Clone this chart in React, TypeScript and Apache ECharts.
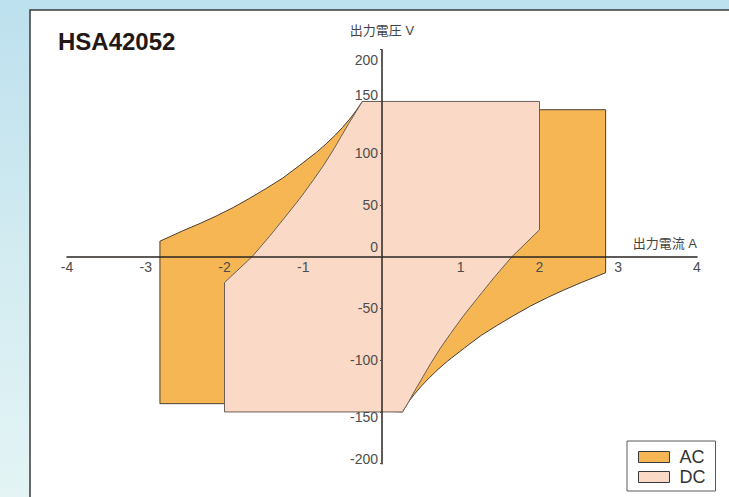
import React, { useEffect, useRef } from "react";
import * as echarts from "echarts";

// ---- data ----
const titleText = "HSA42052";
const xAxisName = "出力電流 A";
const yAxisName = "出力電圧 V";
const xMin = -4;
const xMax = 4;
const yMin = -200;
const yMax = 200;
const legendNames = ["AC", "DC"];

// AC operating region (current A, voltage V)
const acPoints: [number, number][] = [
  [-2.82, 15], [-2.53, 25], [-2.3, 32.5], [-2.1, 39.5], [-1.89, 47.5], [-1.68, 56.5],
  [-1.47, 66], [-1.26, 76], [-1.05, 88], [-0.83, 101], [-0.71, 109], [-0.6, 117],
  [-0.5, 125], [-0.41, 133], [-0.33, 141], [-0.25, 150],
  [2.0, 142], [2.84, 142], [2.84, -15.5],
  [2.53, -25], [2.3, -32.5], [2.1, -39.5], [1.89, -47.5], [1.68, -56.5],
  [1.47, -66], [1.26, -76], [1.05, -88], [0.83, -101], [0.71, -109], [0.6, -117],
  [0.5, -125], [0.41, -133], [0.33, -141], [0.26, -150],
  [-2.0, -142], [-2.82, -142],
];

// DC operating region (current A, voltage V)
const dcPoints: [number, number][] = [
  [-0.25, 150], [2.0, 150], [2.0, 26], [1.65, 0], [1.43, -19.5], [1.22, -39.3],
  [1.04, -56.5], [0.87, -74.3], [0.74, -88.5], [0.62, -103], [0.52, -116],
  [0.42, -129], [0.34, -140], [0.26, -150],
  [-2.0, -150], [-2.0, -25], [-1.65, 0], [-1.43, 19.5], [-1.22, 39.3],
  [-1.04, 56.5], [-0.87, 74.3], [-0.74, 88.5], [-0.62, 103], [-0.52, 116],
  [-0.42, 129], [-0.33, 140],
];

// ---- styles ----
const AC_FILL = "#f6b654";
const AC_STROKE = "#4a3d33";
const DC_FILL = "#fadac7";
const DC_STROKE = "#6b5f58";
const AXIS_COLOR = "#2a2522";
const LABEL_COLOR = "#4d4d4d";
const FONT = "'Liberation Sans', 'Noto Sans CJK JP', sans-serif";

const GRID_LEFT = 67;
const GRID_RIGHT = 32;
const GRID_TOP = 49.7;
const GRID_BOTTOM = 33.3;
const CHART_W = 729;
const CHART_H = 497;
const gridW = CHART_W - GRID_LEFT - GRID_RIGHT;
const gridH = CHART_H - GRID_TOP - GRID_BOTTOM;

const yLabelRich: Record<string, any> = {
  n: { fontSize: 14, color: LABEL_COLOR, fontFamily: FONT },
  d10: { fontSize: 14, color: LABEL_COLOR, fontFamily: FONT, padding: [20, 0, 0, 0] },
  d5: { fontSize: 14, color: LABEL_COLOR, fontFamily: FONT, padding: [10, 0, 0, 0] },
  u10: { fontSize: 14, color: LABEL_COLOR, fontFamily: FONT, padding: [0, 0, 20, 0] },
  u6: { fontSize: 14, color: LABEL_COLOR, fontFamily: FONT, padding: [0, 0, 13, 0] },
  u5: { fontSize: 14, color: LABEL_COLOR, fontFamily: FONT, padding: [0, 0, 10, 0] },
};
const yLabelStyleFor = (v: number): string => {
  if (v === 200) return "d10";
  if (v === 150) return "u6";
  if (v === 0) return "u10";
  if (v === -150) return "d5";
  if (v === -200) return "u5";
  return "n";
};

function polygonSeries(name: string, pts: [number, number][], fill: string, stroke: string, z: number) {
  return {
    name,
    type: "custom",
    z,
    clip: false,
    data: pts,
    itemStyle: { color: fill, borderColor: stroke, borderWidth: 1 },
    renderItem: (params: any, api: any) => {
      if (params.dataIndex !== 0) return null;
      const coords = pts.map((p) => api.coord(p));
      return {
        type: "polygon",
        shape: { points: coords },
        style: { fill, stroke, lineWidth: 1, lineJoin: "miter" },
      };
    },
  };
}

export default function App() {
  const ref = useRef<HTMLDivElement>(null);

  useEffect(() => {
    if (!ref.current) return;
    const chart = echarts.init(ref.current, null, { renderer: "svg" });
    const option: any = {
      animation: false,
      title: {
        text: titleText,
        left: 58,
        top: 29,
        padding: 0,
        textStyle: {
          fontSize: 24,
          fontWeight: "bold",
          color: "#231815",
          fontFamily: FONT,
        },
      },
      graphic: [
        {
          type: "rect",
          z: -10,
          shape: { x: 30, y: 10, width: 760, height: 560 },
          style: { fill: "#ffffff", stroke: "#3a3a3a", lineWidth: 1.5 },
          silent: true,
        },
      ],
      legend: {
        orient: "vertical",
        left: 627,
        top: 441,
        padding: [7, 10, 5, 11],
        borderColor: "#5a5a5a",
        borderWidth: 1,
        backgroundColor: "#ffffff",
        itemWidth: 31,
        itemHeight: 11,
        itemGap: 2,
        icon: "rect",
        selectedMode: false,
        itemStyle: { borderColor: "#3a3a3a", borderWidth: 1 },
        textStyle: {
          fontSize: 18,
          lineHeight: 18,
          color: "#333333",
          fontFamily: FONT,
          padding: [0, 0, 0, 5],
        },
        data: legendNames,
      },
      grid: {
        left: GRID_LEFT,
        right: GRID_RIGHT,
        top: GRID_TOP,
        bottom: GRID_BOTTOM,
        outerBoundsMode: "none",
      },
      xAxis: {
        type: "value",
        position: "bottom",
        offset: -gridH / 2,
        z: 10,
        min: xMin,
        max: xMax,
        interval: 1,
        name: xAxisName,
        nameLocation: "end",
        nameGap: 0,
        nameTextStyle: {
          fontSize: 13,
          color: "#444444",
          fontFamily: FONT,
          align: "right",
          verticalAlign: "bottom",
          padding: [0, 0, 7, 0],
        },
        axisLine: { show: true, onZero: false, lineStyle: { color: AXIS_COLOR, width: 1.5 } },
        axisTick: { show: false },
        splitLine: { show: false },
        axisLabel: {
          margin: 3,
          fontSize: 14,
          color: LABEL_COLOR,
          fontFamily: FONT,
          formatter: (v: number) => (v === 0 ? "" : String(v)),
        },
      },
      yAxis: {
        type: "value",
        position: "left",
        offset: -gridW / 2,
        z: 10,
        min: yMin,
        max: yMax,
        interval: 50,
        name: yAxisName,
        nameLocation: "end",
        nameGap: 19,
        nameTextStyle: {
          fontSize: 13,
          color: "#444444",
          fontFamily: FONT,
          align: "center",
          verticalAlign: "middle",
        },
        axisLine: { show: true, onZero: false, lineStyle: { color: AXIS_COLOR, width: 1.5 } },
        axisTick: { show: true, length: 2, lineStyle: { color: LABEL_COLOR } },
        splitLine: { show: false },
        axisLabel: {
          margin: 4,
          fontSize: 14,
          color: LABEL_COLOR,
          fontFamily: FONT,
          formatter: (v: number) => `{${yLabelStyleFor(v)}|${v}}`,
          rich: yLabelRich,
        },
      },
      series: [
        polygonSeries(legendNames[0], acPoints, AC_FILL, AC_STROKE, 2),
        polygonSeries(legendNames[1], dcPoints, DC_FILL, DC_STROKE, 3),
      ],
    };
    chart.setOption(option);
    return () => chart.dispose();
  }, []);

  return (
    <div
      ref={ref}
      style={{
        position: "absolute",
        left: 0,
        top: 0,
        width: CHART_W,
        height: CHART_H,
        background: "linear-gradient(to bottom, #bde0ee 0%, #d2ebf1 50%, #e4f4f5 100%)",
      }}
    />
  );
}
